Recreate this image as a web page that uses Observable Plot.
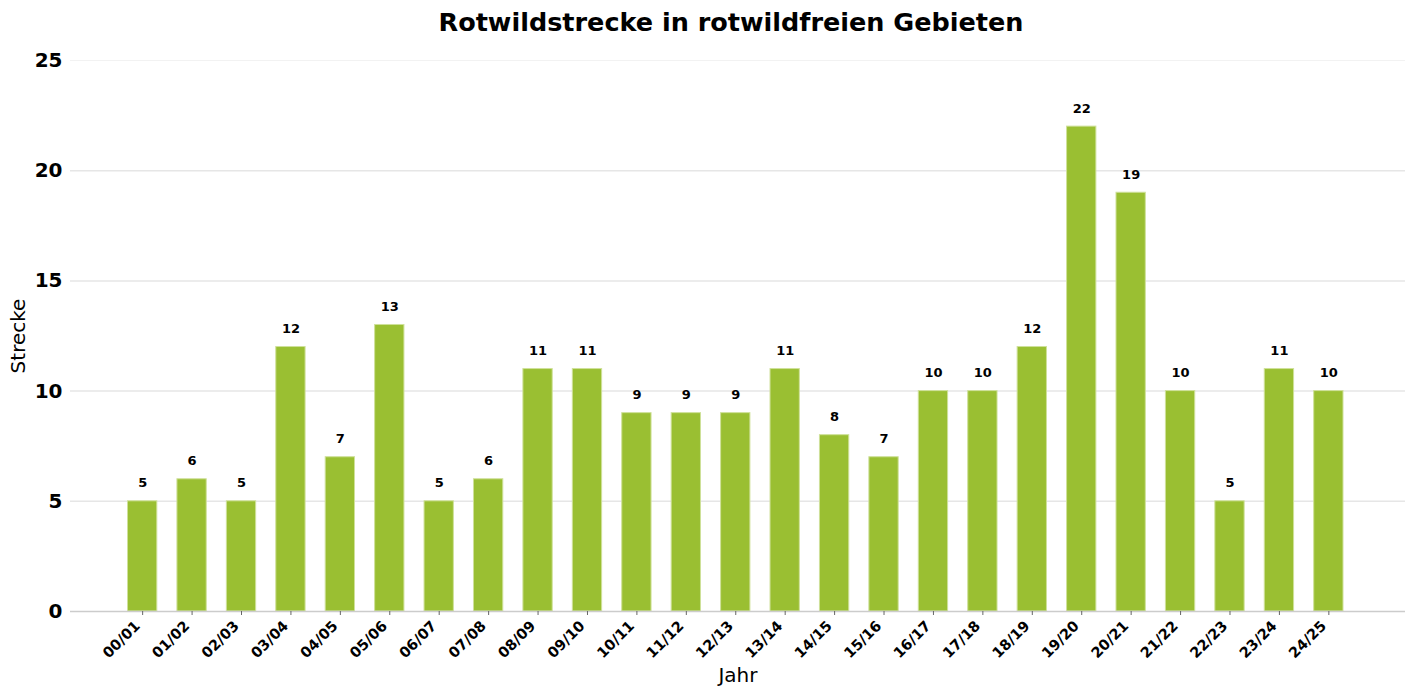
<!DOCTYPE html>
<html>
<head>
<meta charset="utf-8">
<script src="https://cdn.jsdelivr.net/npm/d3@7"></script>
<script src="https://cdn.jsdelivr.net/npm/@observablehq/plot@0.6"></script>
<style>
  html, body { margin: 0; padding: 0; background: #fff; }
  body { width: 1410px; height: 687px; overflow: hidden; font-family: "DejaVu Sans", sans-serif; }
  #title { height: 45px; line-height: 45px; text-align: center; font-size: 25.5px; font-weight: bold; color: #000; padding-left: 52px; box-sizing: border-box; }
</style>
</head>
<body>
<div id="title">Rotwildstrecke in rotwildfreien Gebieten</div>
<div id="chart"></div>
<script>
const years = ["00/01","01/02","02/03","03/04","04/05","05/06","06/07","07/08","08/09","09/10","10/11","11/12","12/13","13/14","14/15","15/16","16/17","17/18","18/19","19/20","20/21","21/22","22/23","23/24","24/25"];
const strecke = [5,6,5,12,7,13,5,6,11,11,9,9,9,11,8,7,10,10,12,22,19,10,5,11,10];
const yTicks = [0,5,10,15,20,25];

const data = years.map((j, i) => ({jahr: j, strecke: strecke[i]}));

const chart = Plot.plot({
  width: 1410,
  height: 642,
  marginLeft: 70,
  marginRight: 5,
  marginTop: 15,
  marginBottom: 76,
  style: {fontFamily: "DejaVu Sans, sans-serif", background: "#fff", color: "#000"},
  x: {type: "band", domain: years, paddingInner: 0.407, paddingOuter: 0, insetLeft: 57.5, insetRight: 62, round: false},
  y: {domain: [0, 25]},
  marks: [
    Plot.ruleY(yTicks.filter(d => d > 0 && d < 25), {stroke: "#e6e6e6", strokeWidth: 1.5}),
    Plot.ruleY([25], {stroke: "#f2f2f2", strokeWidth: 1}),
    Plot.barY(data, {x: "jahr", y: "strecke", fill: "#9abf32", stroke: "#cfe19a", strokeWidth: 1}),
    Plot.ruleY([0], {stroke: "#cccccc", strokeWidth: 1.5}),
    Plot.text(data, {x: "jahr", y: "strecke", text: d => String(d.strecke), dy: -18, fontSize: 13, fontWeight: "bold", fill: "#000"}),
    Plot.axisY({ticks: yTicks, tickSize: 0, tickPadding: 8, fontSize: 20, fontWeight: "bold", label: "Strecke", labelAnchor: "center", labelOffset: 60, labelArrow: "none"}),
    Plot.axisX({tickSize: 4, stroke: "#666", label: null, text: null}),
    Plot.axisX({tickSize: 0, tickRotate: -45, tickPadding: 5, fontSize: 14.5, fontWeight: "bold", label: null, dx: -5, dy: 7}),
    Plot.text(["Jahr"], {frameAnchor: "bottom", dy: 70, fontSize: 20, fill: "#000"})
  ]
});
chart.querySelectorAll('[aria-label="y-axis label"] text, [aria-label="y-axis label"]').forEach(e => { e.setAttribute("font-size", "20"); e.setAttribute("font-weight", "normal"); });
document.getElementById("chart").appendChild(chart);
</script>
</body>
</html>
